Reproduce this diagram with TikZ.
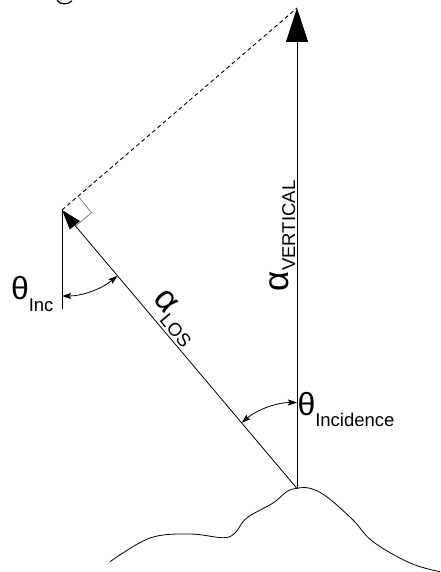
\documentclass[tikz,border=0pt]{standalone}
\usepackage{fontspec}
\setmainfont{Liberation Sans}
\usetikzlibrary{arrows.meta}
\begin{document}
\begin{tikzpicture}[x=1pt,y=1pt,
  thin line/.style={line width=0.8pt, black},
  big vec/.style={thin line, -{Triangle[length=34pt,width=22pt]}},
  los vec/.style={thin line, -{Triangle[length=20pt,width=13pt]}},
  ang arrow/.style={thin line, {Stealth[length=9pt,width=6pt,inset=1.5pt]}-{Stealth[length=9pt,width=6pt,inset=1.5pt]}},
  dash line/.style={line width=0.9pt, dash pattern=on 4pt off 3pt},
  right mark/.style={line width=0.8pt, gray},
  lbl/.style={inner sep=0pt, outer sep=0pt},
]
\useasboundingbox (0,0) rectangle (441,-572);

% key points
\coordinate (A) at (297,-488.5);   % ground apex
\coordinate (T) at (62,-210);      % tip of LOS vector
\coordinate (V) at (297,-8);       % tip of vertical vector
\coordinate (B) at (62,-309);      % bottom of short vertical
\coordinate (R1) at (75.5,-226);
\coordinate (R2) at (91.5,-212.8);
\coordinate (R3) at (78,-196);

% clipped fragment at top
\draw[line width=1.2pt] (57,-0.3) .. controls (60,-5) and (68,-5) .. (72,-0.8);

% vectors
\draw[big vec] (A) -- (V);
\draw[dash line] (T) -- (V);
\draw[right mark] (R1) -- (R2) -- (R3);
\draw[los vec] (A) -- (T);
\draw[thin line] (T) -- (B);

% angle arcs
\draw[ang arrow] ([shift={(270:86pt)}]T) arc[start angle=270, end angle=310.1, radius=86pt];
\draw[ang arrow] ([shift={(90:86pt)}]A) arc[start angle=90, end angle=130.1, radius=86pt];

% ground
\draw[thin line] plot[smooth, tension=0.6] coordinates {
  (110,-561.7) (150,-538) (190,-534) (223,-537.7) (235,-533) (246.7,-518)
  (273,-503) (286.7,-491.7) (296.7,-488.3) (310,-488.3) (326.7,-496.7)
  (353,-520) (373,-541.7) (410,-563) (440,-571.7)};

% labels
\node[lbl, anchor=base west] (thinc) at (11,-299.5)
  {{\fontsize{32}{32}\selectfont θ}\raisebox{-12pt}{\fontsize{18.5}{18.5}\selectfont Inc}};
\node[lbl, anchor=base west] (thincid) at (297.5,-415.5)
  {{\fontsize{32}{32}\selectfont θ}\raisebox{-11pt}{\fontsize{18.5}{18.5}\selectfont Incidence}};
\node[lbl, anchor=base west, rotate=90] (avert) at (288,-291)
  {{\fontsize{35}{35}\selectfont α}\raisebox{-7pt}{\fontsize{18.5}{18.5}\selectfont VERTICAL}};
\node[lbl, anchor=base west, rotate=-50] (alos) at (152.1,-299.5)
  {{\fontsize{35}{35}\selectfont α}\raisebox{-8pt}{\fontsize{18.5}{18.5}\selectfont LOS}};
\end{tikzpicture}
\end{document}
